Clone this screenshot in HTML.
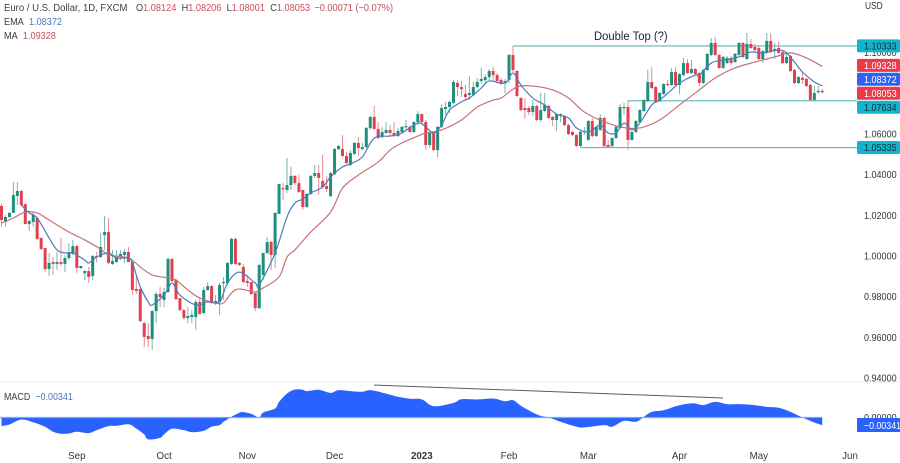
<!DOCTYPE html>
<html lang="en"><head><meta charset="utf-8"><title>EUR/USD Double Top</title>
<style>
html,body{margin:0;padding:0;background:#fff;overflow:hidden}
svg{display:block;font-family:"Liberation Sans",sans-serif;filter:blur(.35px)}
</style></head>
<body>
<svg id="chart" width="900" height="463" viewBox="0 0 900 463" xmlns="http://www.w3.org/2000/svg">
<rect x="0" y="0" width="900" height="463" fill="#ffffff"/>
<rect x="0" y="381.5" width="900" height="1.2" fill="#eef0f4"/>
<g id="levels"></g>
<g id="candles"></g>
<g id="lines"></g>
<g id="macd"></g>
<line x1="374" y1="385" x2="723" y2="398" stroke="#555a60" stroke-width="1"/>
<text transform="translate(594,40) scale(.94,1)" font-size="12" fill="#1f2329">Double Top (?)</text>
<g font-size="10.5" fill="#3c4048">
<text transform="translate(4,11) scale(.91,1)">Euro / U.S. Dollar, 1D, FXCM</text>
<text transform="translate(136,11) scale(.875,1)">O<tspan fill="#c4505f">1.08124</tspan><tspan dx="6">H</tspan><tspan fill="#c4505f">1.08206</tspan><tspan dx="6">L</tspan><tspan fill="#c4505f">1.08001</tspan><tspan dx="6">C</tspan><tspan fill="#c4505f">1.08053</tspan><tspan dx="5" fill="#c4505f">−0.00071 (−0.07%)</tspan></text>
<text transform="translate(4,25) scale(.87,1)">EMA<tspan dx="6" fill="#4a76b8">1.08372</tspan></text>
<text transform="translate(4,39) scale(.87,1)">MA<tspan dx="6" fill="#c4505f">1.09328</tspan></text>
<text transform="translate(4,400) scale(.85,1)">MACD<tspan dx="6" fill="#4a76b8">−0.00341</tspan></text>
</g>
<g id="yaxis" font-size="10.5" fill="#33373e"></g>
<text transform="translate(865,9) scale(.8,1)" font-size="10.5" fill="#33373e">USD</text>
<g id="xaxis" font-size="10.5" fill="#33373e"></g>
<g id="tags" font-size="10.5"></g>
</svg>
<script>
const opens=[
1.0246,1.0167,1.0192,1.0212,1.0295,1.0320,1.0256,1.0157,1.0167,1.0187,
1.0089,1.0039,0.9936,0.9970,0.9961,0.9970,0.9961,0.9990,1.0010,1.0049,
0.9941,0.9916,0.9926,0.9902,1.0000,0.9995,1.0103,1.0118,0.9961,0.9970,
0.9995,1.0005,1.0020,0.9970,0.9838,0.9838,0.9670,0.9607,0.9592,0.9729,
0.9813,0.9784,0.9823,0.9985,0.9882,0.9793,0.9734,0.9695,0.9700,0.9700,
0.9774,0.9720,0.9833,0.9852,0.9769,0.9774,0.9867,0.9867,0.9961,1.0084,
0.9966,0.9946,0.9877,0.9872,0.9818,0.9744,0.9907,1.0015,1.0069,1.0005,
1.0207,1.0334,1.0325,1.0349,1.0394,1.0359,1.0325,1.0241,1.0305,1.0394,
1.0408,1.0369,1.0344,1.0295,1.0403,1.0526,1.0526,1.0492,1.0448,1.0502,
1.0556,1.0526,1.0536,1.0630,1.0684,1.0625,1.0585,1.0605,1.0620,1.0605,
1.0590,1.0610,1.0635,1.0635,1.0610,1.0659,1.0698,1.0659,1.0546,1.0605,
1.0521,1.0635,1.0723,1.0733,1.0753,1.0851,1.0831,1.0797,1.0792,1.0792,
1.0831,1.0861,1.0866,1.0880,1.0910,1.0890,1.0866,1.0851,1.0866,1.0989,
1.0910,1.0777,1.0728,1.0728,1.0708,1.0738,1.0669,1.0713,1.0738,1.0684,
1.0669,1.0689,1.0689,1.0644,1.0610,1.0595,1.0541,1.0610,1.0571,1.0664,
1.0590,1.0620,1.0679,1.0546,1.0541,1.0580,1.0630,1.0728,1.0733,1.0571,
1.0610,1.0659,1.0713,1.0762,1.0856,1.0831,1.0762,1.0797,1.0846,1.0841,
1.0905,1.0841,1.0890,1.0949,1.0900,1.0920,1.0900,1.0851,1.0915,1.0989,
1.1048,1.0989,1.0925,1.0949,1.0969,1.0954,1.0989,1.1048,1.0969,1.1043,
1.1028,1.1023,1.0969,1.0999,1.1058,1.1008,1.1023,1.1003,1.0949,1.0984,
1.0915,1.0851,1.0876,1.0871,1.0841,1.0767,1.0807,1.08124];
const highs=[
1.0256,1.0202,1.0216,1.0364,1.0364,1.0325,1.0256,1.0177,1.0216,1.0192,
1.0089,1.0039,1.0015,0.9995,1.0020,1.0089,1.0005,1.0064,1.0079,1.0054,
0.9951,0.9931,0.9946,1.0005,1.0020,1.0113,1.0197,1.0187,1.0030,1.0030,
1.0030,1.0034,1.0044,0.9970,0.9897,0.9843,0.9675,0.9670,0.9734,0.9823,
0.9848,0.9843,0.9995,0.9990,0.9887,0.9793,0.9739,0.9749,0.9734,0.9784,
0.9798,0.9848,0.9872,0.9857,0.9808,0.9867,0.9897,0.9970,1.0089,1.0089,
0.9970,0.9961,0.9907,0.9872,0.9818,0.9961,1.0015,1.0093,1.0074,1.0216,
1.0354,1.0359,1.0482,1.0438,1.0398,1.0398,1.0325,1.0310,1.0398,1.0448,
1.0448,1.0497,1.0394,1.0413,1.0531,1.0546,1.0595,1.0512,1.0521,1.0561,
1.0585,1.0556,1.0635,1.0689,1.0738,1.0659,1.0635,1.0659,1.0644,1.0659,
1.0630,1.0639,1.0669,1.0644,1.0664,1.0713,1.0703,1.0669,1.0610,1.0610,
1.0639,1.0748,1.0758,1.0762,1.0866,1.0866,1.0861,1.0841,1.0885,1.0856,
1.0876,1.0925,1.0895,1.0920,1.0930,1.0900,1.0876,1.0871,1.0994,1.1033,
1.0915,1.0782,1.0777,1.0738,1.0767,1.0743,1.0802,1.0802,1.0743,1.0689,
1.0703,1.0703,1.0694,1.0649,1.0615,1.0600,1.0620,1.0635,1.0669,1.0679,
1.0639,1.0698,1.0684,1.0571,1.0585,1.0644,1.0748,1.0753,1.0767,1.0615,
1.0669,1.0723,1.0772,1.0915,1.0930,1.0836,1.0807,1.0851,1.0866,1.0925,
1.0930,1.0900,1.0974,1.0969,1.0964,1.0925,1.0905,1.0920,1.0999,1.1072,
1.1077,1.0994,1.0984,1.0984,1.0984,1.0999,1.1053,1.1053,1.1097,1.1067,
1.1043,1.1033,1.1013,1.1097,1.1097,1.1048,1.1053,1.1008,1.1003,1.0989,
1.0920,1.0885,1.0905,1.0876,1.0846,1.0836,1.0836,1.08206];
const lows=[
1.0143,1.0143,1.0187,1.0212,1.0251,1.0246,1.0157,1.0123,1.0143,1.0079,
1.0030,0.9921,0.9902,0.9907,0.9931,0.9951,0.9921,0.9980,1.0005,0.9916,
0.9936,0.9882,0.9867,0.9882,0.9970,0.9990,1.0030,0.9961,0.9956,0.9966,
0.9980,0.9966,0.9970,0.9808,0.9813,0.9675,0.9552,0.9552,0.9538,0.9670,
0.9749,0.9749,0.9818,0.9872,0.9784,0.9729,0.9685,0.9670,0.9670,0.9636,
0.9710,0.9715,0.9828,0.9764,0.9759,0.9710,0.9784,0.9857,0.9956,0.9956,
0.9951,0.9867,0.9848,0.9808,0.9729,0.9739,0.9882,1.0010,0.9931,0.9941,
1.0207,1.0275,1.0310,1.0325,1.0349,1.0310,1.0226,1.0236,1.0300,1.0384,
1.0300,1.0334,1.0315,1.0290,1.0398,1.0521,1.0487,1.0453,1.0443,1.0497,
1.0492,1.0521,1.0531,1.0620,1.0620,1.0576,1.0580,1.0600,1.0585,1.0585,
1.0585,1.0605,1.0620,1.0605,1.0605,1.0644,1.0649,1.0521,1.0531,1.0516,
1.0487,1.0630,1.0694,1.0703,1.0748,1.0787,1.0782,1.0767,1.0767,1.0787,
1.0826,1.0846,1.0851,1.0866,1.0866,1.0846,1.0841,1.0802,1.0851,1.0905,
1.0782,1.0713,1.0674,1.0694,1.0689,1.0664,1.0659,1.0708,1.0674,1.0639,
1.0615,1.0659,1.0639,1.0595,1.0590,1.0536,1.0536,1.0595,1.0566,1.0585,
1.0585,1.0615,1.0536,1.0531,1.0536,1.0576,1.0625,1.0694,1.0521,1.0566,
1.0605,1.0654,1.0708,1.0758,1.0821,1.0753,1.0758,1.0792,1.0836,1.0836,
1.0836,1.0797,1.0885,1.0895,1.0895,1.0890,1.0836,1.0846,1.0910,1.0984,
1.0984,1.0920,1.0920,1.0944,1.0939,1.0949,1.0984,1.0974,1.0964,1.1018,
1.1003,1.0964,1.0949,1.0994,1.0999,1.0969,1.0994,1.0944,1.0944,1.0905,
1.0846,1.0846,1.0846,1.0831,1.0762,1.0762,1.0797,1.08001];
const closes=[
1.0177,1.0192,1.0212,1.0300,1.0320,1.0251,1.0157,1.0172,1.0202,1.0084,
1.0034,0.9936,0.9966,0.9961,0.9970,0.9961,0.9990,1.0015,1.0049,0.9941,
0.9951,0.9926,0.9897,1.0000,0.9995,1.0044,1.0118,0.9966,0.9975,0.9995,
1.0010,1.0020,0.9970,0.9833,0.9828,0.9680,0.9602,0.9592,0.9729,0.9813,
0.9798,0.9823,0.9985,0.9877,0.9788,0.9734,0.9695,0.9705,0.9710,0.9774,
0.9715,0.9833,0.9852,0.9769,0.9779,0.9857,0.9872,0.9966,1.0084,0.9961,
0.9956,0.9872,0.9867,0.9813,0.9744,0.9956,1.0015,1.0069,1.0005,1.0212,
1.0354,1.0330,1.0349,1.0394,1.0359,1.0315,1.0241,1.0305,1.0394,1.0408,
1.0384,1.0339,1.0330,1.0408,1.0526,1.0541,1.0492,1.0457,1.0507,1.0556,
1.0531,1.0536,1.0630,1.0684,1.0625,1.0580,1.0610,1.0620,1.0605,1.0590,
1.0615,1.0635,1.0639,1.0610,1.0659,1.0698,1.0659,1.0546,1.0605,1.0521,
1.0635,1.0728,1.0733,1.0758,1.0856,1.0831,1.0821,1.0782,1.0802,1.0831,
1.0856,1.0871,1.0880,1.0910,1.0890,1.0861,1.0846,1.0861,1.0989,1.0915,
1.0787,1.0718,1.0718,1.0708,1.0738,1.0669,1.0718,1.0743,1.0679,1.0669,
1.0698,1.0698,1.0644,1.0600,1.0595,1.0541,1.0610,1.0615,1.0664,1.0590,
1.0635,1.0679,1.0541,1.0536,1.0580,1.0635,1.0733,1.0733,1.0571,1.0610,
1.0664,1.0718,1.0767,1.0856,1.0826,1.0758,1.0802,1.0846,1.0841,1.0905,
1.0841,1.0895,1.0949,1.0900,1.0920,1.0895,1.0851,1.0915,1.0994,1.1048,
1.0989,1.0925,1.0979,1.0974,1.0949,1.0994,1.1048,1.0979,1.1043,1.1023,
1.1013,1.0969,1.1008,1.1058,1.1003,1.1018,1.0999,1.0949,1.0979,1.0910,
1.0851,1.0880,1.0866,1.0836,1.0767,1.0802,1.0812,1.08053];

const emaDays=[5,7,9,12,14,16,18,21,22,24,27,29,32,33,35,37,38,41,43,45,49,52,55,57,60,64,65,69,72,74,76,78,81,83,86,88,91,94,98,101,105,107,109,111,113,116,118,121,123,127,129,131,134,137,140,143,145,148,151,153,155,157,159,161,164,166,169,171,175,176,179,182,186,189,192,196,198,200,202,205,207];
const emaValues=[1.0251,1.0212,1.0187,1.0089,1.0030,1.0015,1.0015,0.9980,0.9966,0.9995,1.0015,0.9990,0.9990,0.9966,0.9848,0.9774,0.9759,0.9808,0.9867,0.9808,0.9759,0.9774,0.9774,0.9867,0.9921,0.9867,0.9857,1.0015,1.0192,1.0261,1.0280,1.0310,1.0339,1.0389,1.0438,1.0453,1.0487,1.0580,1.0590,1.0605,1.0654,1.0635,1.0605,1.0644,1.0718,1.0758,1.0777,1.0826,1.0861,1.0851,1.0900,1.0841,1.0777,1.0743,1.0698,1.0679,1.0630,1.0610,1.0644,1.0605,1.0605,1.0654,1.0620,1.0654,1.0743,1.0767,1.0817,1.0851,1.0890,1.0890,1.0949,1.0964,1.0979,1.1003,1.0999,1.1013,1.0999,1.0954,1.0905,1.0856,1.08372];
const maDays=[0,3,6,9,12,17,21,25,27,32,35,38,42,44,47,50,54,56,58,60,64,66,70,72,74,78,83,86,90,95,98,101,105,107,111,116,120,124,126,130,134,139,143,147,151,156,161,166,171,175,180,185,190,195,199,203,207];
const maValues=[1.0162,1.0187,1.0216,1.0212,1.0177,1.0118,1.0079,1.0034,1.0005,0.9990,0.9946,0.9907,0.9892,0.9882,0.9833,0.9793,0.9769,0.9769,0.9818,0.9838,0.9823,0.9843,0.9897,0.9995,1.0030,1.0118,1.0216,1.0334,1.0398,1.0462,1.0521,1.0556,1.0590,1.0605,1.0620,1.0669,1.0733,1.0767,1.0777,1.0831,1.0836,1.0817,1.0777,1.0708,1.0669,1.0635,1.0630,1.0669,1.0743,1.0802,1.0876,1.0925,1.0954,1.0979,1.0999,1.0974,1.09328];
const macdDays=[0,2,5,8,11,13,15,17,19,22,24,27,29,32,34,36,37,40,41,43,46,48,51,53,55,56,58,60,61,63,65,66,69,70,72,74,76,77,80,83,85,88,91,93,97,100,103,106,109,114,116,120,124,127,129,131,134,136,138,141,145,147,152,154,157,160,162,164,167,170,173,175,177,180,183,186,190,193,196,199,202,205,207];
const macdValues=[-0.0038,-0.0031,-0.0009,-0.0021,-0.0041,-0.0063,-0.0072,-0.0071,-0.0063,-0.0069,-0.0056,-0.0038,-0.0037,-0.0030,-0.0049,-0.0075,-0.0097,-0.0090,-0.0075,-0.0050,-0.0056,-0.0065,-0.0059,-0.0041,-0.0034,-0.0019,0.0003,0.0021,0.0024,0.0016,0.0000,0.0022,0.0040,0.0069,0.0106,0.0124,0.0123,0.0117,0.0123,0.0109,0.0121,0.0117,0.0114,0.0121,0.0106,0.0092,0.0083,0.0080,0.0050,0.0065,0.0081,0.0080,0.0084,0.0072,0.0077,0.0052,0.0022,0.0007,0.0000,-0.0019,-0.0041,-0.0044,-0.0034,-0.0041,-0.0015,-0.0019,0.0003,0.0025,0.0032,0.0050,0.0061,0.0062,0.0055,0.0069,0.0059,0.0059,0.0055,0.0047,0.0043,0.0025,0.0000,-0.0022,-0.00341];

const priceTicks=["1.10000","1.06000","1.04000","1.02000","1.00000","0.98000","0.96000","0.94000"];
const monthLabels=["Sep","Oct","Nov","Dec","2023","Feb","Mar","Apr","May","Jun"];
const monthDays=[19,41,62,84,106,128,148,171,191,214];
const levelValues=[1.10333,1.07634,1.05335];
const levelStartDays=[129,158,146];
const tagValues=[1.10333,1.09328,1.08372,1.08053,1.07634,1.05335];
const tagKinds=["level","ma","ema","price","level","level"];
const macdLast=-0.00341;

const svgNS="http://www.w3.org/2000/svg";
const xScale=d=>1.5+3.965*d;
const yScale=p=>256-(p-1)*2033;
const macdY=v=>417.5-v*2258;
const tagColors={level:"#14b4cc",ma:"#ea3a4c",ema:"#2f62f0",price:"#ea3a4c"};
const labelSqueeze=0.86;
function make(parent,tag,attrs){
  const el=document.createElementNS(svgNS,tag);
  for(const k in attrs)el.setAttribute(k,attrs[k]);
  parent.appendChild(el);
  return el;
}
function smoothPath(pts){
  let d="M"+pts[0][0]+" "+pts[0][1];
  for(let i=0;i<pts.length-1;i++){
    const p0=pts[Math.max(0,i-1)],p1=pts[i],p2=pts[i+1],p3=pts[Math.min(pts.length-1,i+2)];
    d+="C"+(p1[0]+(p2[0]-p0[0])/6)+" "+(p1[1]+(p2[1]-p0[1])/6)+" "+(p2[0]-(p3[0]-p1[0])/6)+" "+(p2[1]-(p3[1]-p1[1])/6)+" "+p2[0]+" "+p2[1];
  }
  return d;
}
// tag stacking: avoid overlap like the price scale does
function tagCenters(values){
  const c=values.map(yScale);
  const wanted=c.slice();
  for(let pass=0;pass<6;pass++){
    for(let i=1;i<c.length;i++){
      const gap=c[i]-c[i-1];
      if(gap<14){const s=(14-gap)/2;c[i-1]-=s;c[i]+=s;}
    }
  }
  c[0]=wanted[0];
  return c;
}
const gLevels=document.getElementById("levels");
levelValues.forEach((v,i)=>{
  const el=make(gLevels,"line",{x1:xScale(levelStartDays[i]),x2:857,y1:yScale(v),y2:yScale(v),stroke:"#55b8bd","stroke-width":1.1});
  
  
});
const gCandles=document.getElementById("candles");
closes.forEach((c,i)=>{
  const o=opens[i],up=c>=o;
  const x=xScale(i);
  const wick=make(gCandles,"line",{x1:x,x2:x,y1:yScale(highs[i]),y2:yScale(lows[i]),stroke:up?"#79b5a9":"#dd8c96","stroke-width":1});
  
  
  const top=Math.min(yScale(o),yScale(c)),h=Math.max(1.2,Math.abs(yScale(o)-yScale(c)));
  const body=make(gCandles,"rect",{x:x-1.5,y:top,width:3,height:h,fill:up?"#1c907c":"#e2404f"});
  
  
});
const gLines=document.getElementById("lines");
const maLine=make(gLines,"path",{d:smoothPath(maDays.map((d,i)=>[xScale(d),yScale(maValues[i])])),fill:"none",stroke:"#c8707a","stroke-width":1.2});


const emaLine=make(gLines,"path",{d:smoothPath(emaDays.map((d,i)=>[xScale(d),yScale(emaValues[i])])),fill:"none",stroke:"#5079bd","stroke-width":1.2});


const gMacd=document.getElementById("macd");
const lastX=xScale(macdDays[macdDays.length-1]);
const macdCurve=smoothPath(macdDays.map((d,i)=>[xScale(d),macdY(macdValues[i])]));
const macdArea=make(gMacd,"path",{d:macdCurve+"L"+lastX+" "+macdY(0)+"L"+xScale(macdDays[0])+" "+macdY(0)+"Z",fill:"#2962ff"});


const macdZero=make(gMacd,"line",{x1:0,x2:lastX,y1:macdY(0),y2:macdY(0),stroke:"#7da3ff","stroke-width":1.2});


const gY=document.getElementById("yaxis");
priceTicks.forEach(t=>{
  const el=make(gY,"text",{transform:"translate(864,"+(yScale(parseFloat(t))+3.5)+") scale("+labelSqueeze+",1)"});
  el.textContent=t;
  
  
});
const zeroTick=make(gY,"text",{transform:"translate(864,"+(macdY(0)+3.5)+") scale("+labelSqueeze+",1)"});
zeroTick.textContent="0.00000";


const gX=document.getElementById("xaxis");
monthLabels.forEach((m,i)=>{
  const el=make(gX,"text",{transform:"translate("+xScale(monthDays[i])+",459) scale(.93,1)","text-anchor":"middle"});
  if(m==="2023")el.setAttribute("font-weight","bold");
  el.textContent=m;
  
  
});
const gTags=document.getElementById("tags");
const centers=tagCenters(tagValues);
tagValues.forEach((v,i)=>{
  const cy=centers[i];
  const box=make(gTags,"rect",{x:857,y:cy-6.5,width:43,height:13,rx:1.5,fill:tagColors[tagKinds[i]]});
  
  
  const txt=make(gTags,"text",{transform:"translate(864,"+(cy+3.7)+") scale("+labelSqueeze+",1)",fill:tagKinds[i]==="level"?"#10303a":"#ffffff"});
  txt.textContent=v.toFixed(5);
  
  
});
const mBox=make(gTags,"rect",{x:857,y:macdY(0)+0.5,width:43,height:14,fill:"#2962ff"});


const mTxt=make(gTags,"text",{transform:"translate(864,"+(macdY(0)+11.5)+") scale(.84,1)",fill:"#ffffff"});
mTxt.textContent="−"+Math.abs(macdLast).toFixed(5);


</script>
</body></html>
